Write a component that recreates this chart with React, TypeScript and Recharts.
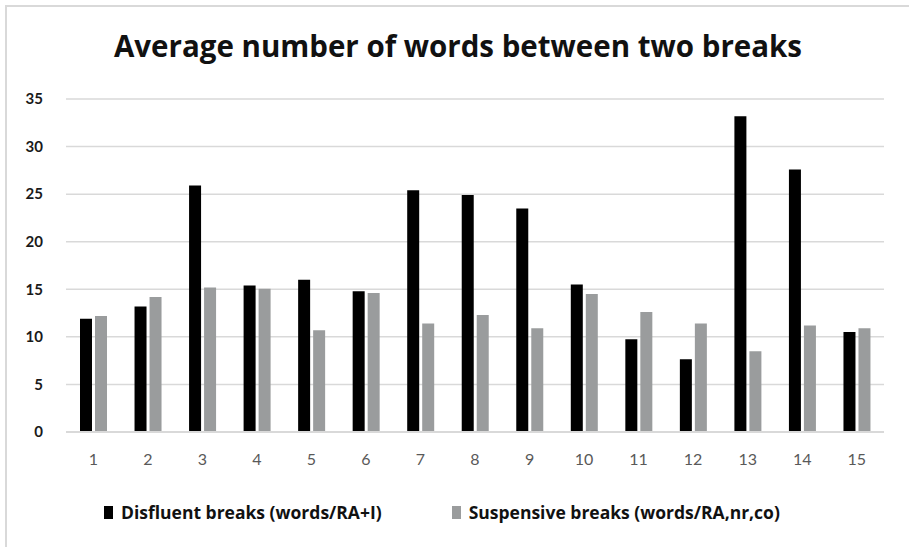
import { BarChart, Bar, XAxis, YAxis, CartesianGrid } from "recharts";

const categories = ["1", "2", "3", "4", "5", "6", "7", "8", "9", "10", "11", "12", "13", "14", "15"];
const disfluent = [11.9, 13.2, 25.9, 15.4, 16.0, 14.8, 25.4, 24.9, 23.5, 15.5, 9.75, 7.65, 33.2, 27.6, 10.5];
const suspensive = [12.2, 14.2, 15.2, 15.05, 10.7, 14.6, 11.4, 12.3, 10.9, 14.5, 12.6, 11.4, 8.5, 11.2, 10.9];
const yTicks = [0, 5, 10, 15, 20, 25, 30, 35];

const seriesNames = ["Disfluent breaks (words/RA+I)", "Suspensive breaks (words/RA,nr,co)"];
const seriesColors = ["#000000", "#9a9c9d"];

const data = categories.map((c, i) => ({
  name: c,
  disfluent: disfluent[i],
  suspensive: suspensive[i],
}));

const font = "Lato, 'Open Sans', sans-serif";
const wideFont = "'Open Sans', Lato, sans-serif";

export default function App() {
  return (
    <div
      style={{
        position: "absolute",
        left: 0,
        top: 0,
        width: 909,
        height: 547,
        background: "#fff",
        overflow: "hidden",
        fontFamily: font,
      }}
    >
      <div
        style={{
          position: "absolute",
          left: 5,
          top: 5,
          width: 940,
          height: 580,
          borderLeft: "2px solid #d9d9d9",
          borderTop: "2px solid #d9d9d9",
        }}
      />
      <div
        style={{
          position: "absolute",
          left: 0,
          top: 26,
          width: 916,
          textAlign: "center",
          fontSize: 29.5,
          fontWeight: 700,
          fontFamily: wideFont,
          color: "#111",
          lineHeight: "40px",
        }}
      >
        Average number of words between two breaks
      </div>
      <div style={{ position: "absolute", left: 0, top: 0 }}>
        <BarChart
          width={909}
          height={547}
          data={data}
          margin={{ top: 99, right: 25, left: 0, bottom: 85 }}
          barGap={3}
          barSize={12}
        >
          <CartesianGrid vertical={false} stroke="#d9d9d9" strokeWidth={1.5} />
          <XAxis
            dataKey="name"
            height={30}
            axisLine={{ stroke: "#d9d9d9", strokeWidth: 2 }}
            tickLine={false}
            tickSize={0}
            tickMargin={22}
            tick={{ fill: "#595959", fontSize: 16, fontFamily: font }}
          />
          <YAxis
            width={66}
            domain={[0, 35]}
            ticks={yTicks}
            axisLine={false}
            tickLine={false}
            tickSize={0}
            tickMargin={23}
            tick={{ fill: "#1a1a1a", fontSize: 15, fontWeight: 700, fontFamily: font }}
          />
          <Bar dataKey="disfluent" name={seriesNames[0]} fill={seriesColors[0]} isAnimationActive={false} />
          <Bar dataKey="suspensive" name={seriesNames[1]} fill={seriesColors[1]} isAnimationActive={false} />
        </BarChart>
      </div>
      <div
        style={{
          position: "absolute",
          left: 104,
          top: 500,
          display: "flex",
          alignItems: "center",
          fontSize: 17.5,
          fontWeight: 700,
          fontFamily: wideFont,
          color: "#111",
        }}
      >
        {seriesNames.map((n, i) => (
          <div key={n} style={{ display: "flex", alignItems: "center", marginRight: i === 0 ? 70 : 0 }}>
            <span style={{ width: 9, height: 13, background: seriesColors[i], marginRight: 8, display: "inline-block" }} />
            <span>{n}</span>
          </div>
        ))}
      </div>
    </div>
  );
}
